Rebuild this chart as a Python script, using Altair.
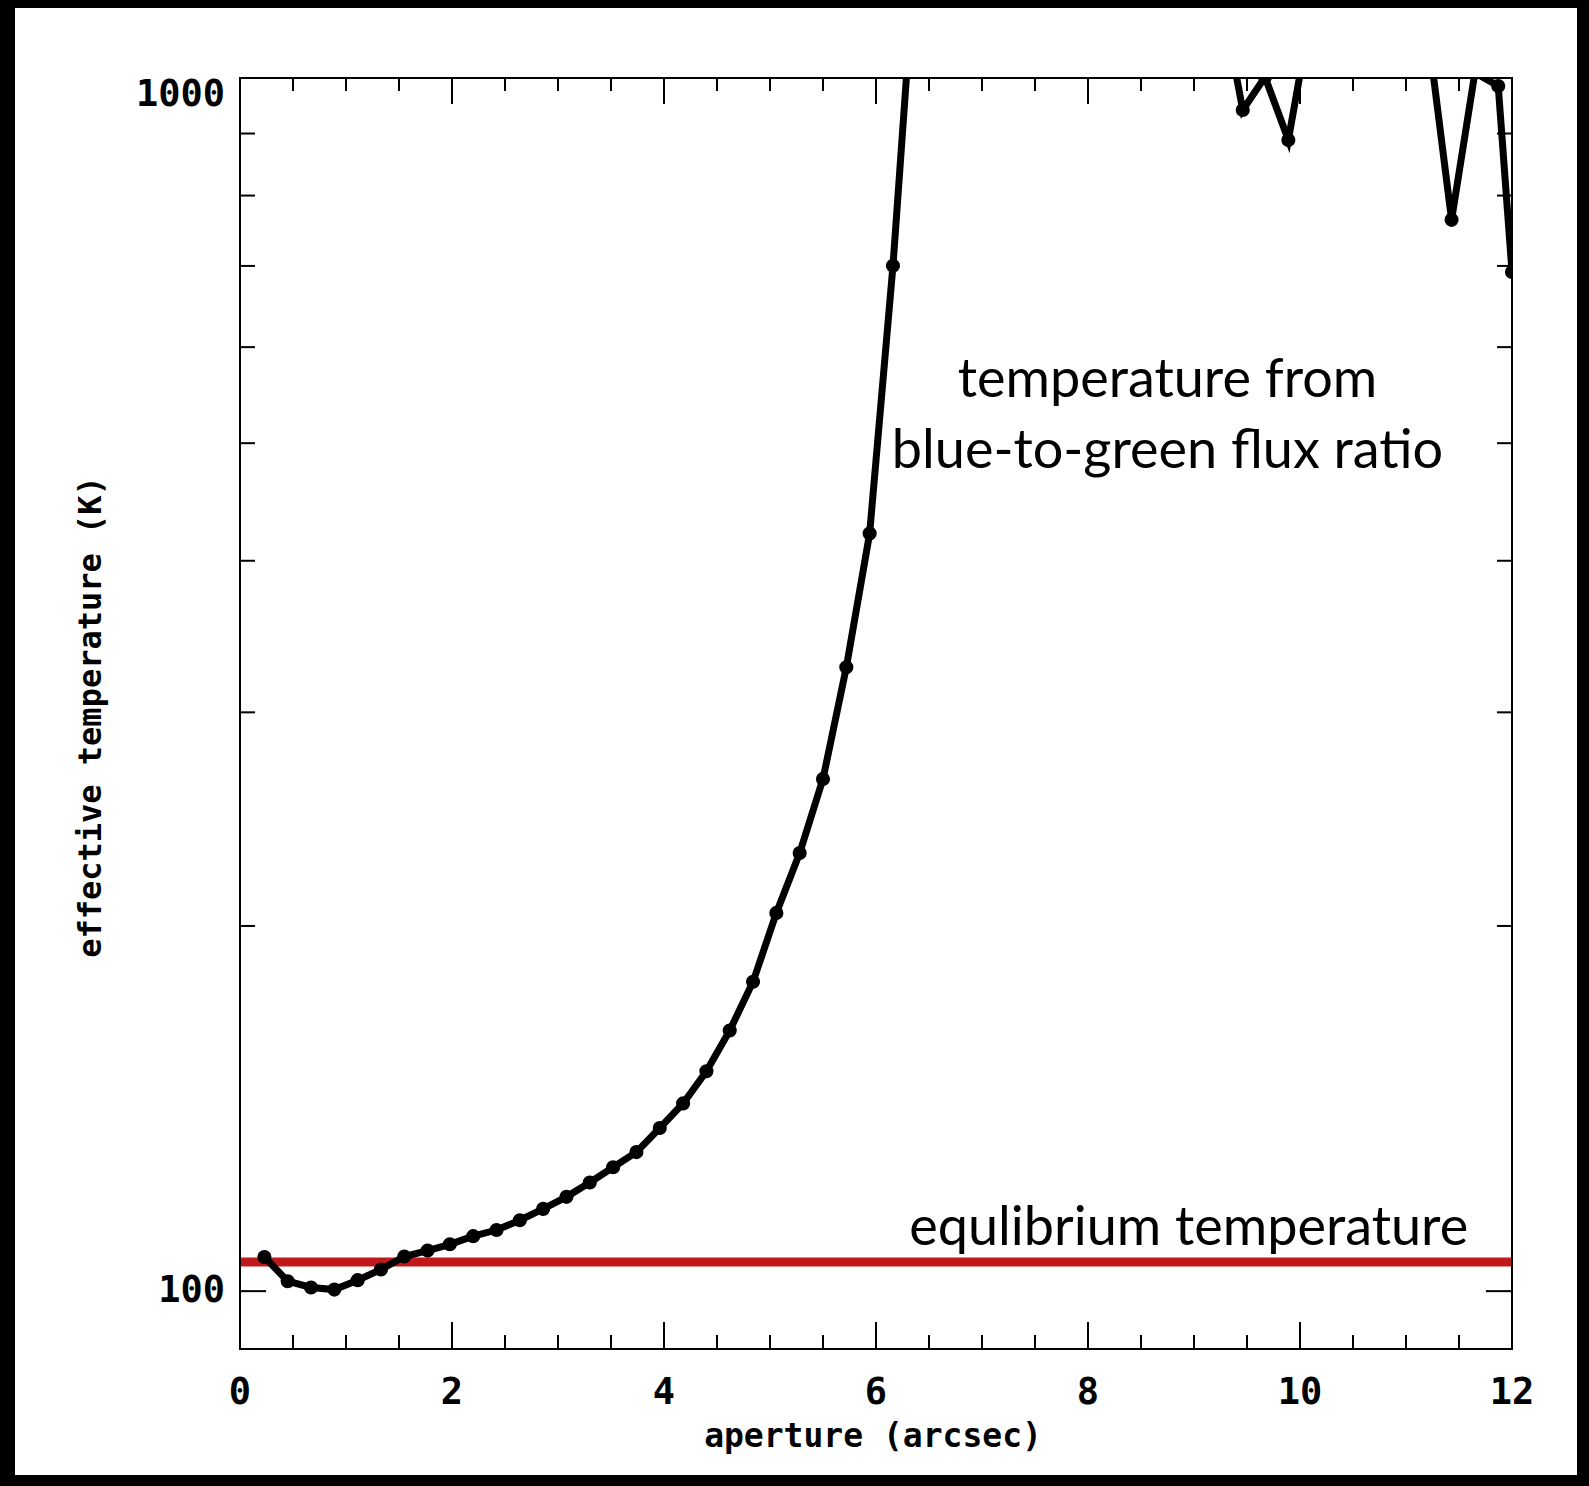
import altair as alt
import pandas as pd

# ---- data ----
aperture = [0.23, 0.45, 0.67, 0.89, 1.11, 1.33, 1.55, 1.77, 1.98,
            2.20, 2.42, 2.64, 2.86, 3.08, 3.30, 3.52, 3.74, 3.96, 4.18,
            4.40, 4.62, 4.84, 5.06, 5.28, 5.50, 5.72, 5.94, 6.16, 6.38,
            9.24, 9.46, 9.67, 9.89, 10.11,
            11.21, 11.43, 11.65, 11.87, 12.0]
temperature = [106.7, 101.9, 100.7, 100.3, 102.1, 104.2, 106.8, 108.0, 109.3,
               111.0, 112.3, 114.4, 116.9, 119.6, 122.9, 126.5, 130.2, 136.3, 142.8,
               151.8, 164.0, 179.9, 205.0, 229.7, 264.4, 326.8, 421.3, 700.2, 1300,
               1190, 941, 1002, 889, 1140,
               1085, 764, 1010, 985, 692]
equilibrium_temp = [105.7]

x_major = [0, 2, 4, 6, 8, 10, 12]
x_labels = ["0", "2", "4", "6", "8", "10", "12"]
x_minor = [0.5, 1, 1.5, 2.5, 3, 3.5, 4.5, 5, 5.5, 6.5, 7, 7.5,
           8.5, 9, 9.5, 10.5, 11, 11.5]
y_major = [100, 1000]
y_labels = ["100", "1000"]
y_minor = [200, 300, 400, 500, 600, 700, 800, 900]

x_title = "aperture (arcsec)"
y_title = "effective temperature (K)"

annot_text = ["temperature from", "blue-to-green flux ratio", "equlibrium temperature"]
annot_x = [8.75, 8.75, 8.95]
annot_y = [546, 477, 109.2]

# ---- layout ----
W, H = 1272, 1271
PAD_L, PAD_T = 240, 78
PAD_R = 1589 - PAD_L - W
PAD_B = 1486 - PAD_T - H

LABEL_FONT = "DejaVu Sans Mono"

xs = alt.Scale(domain=[0, 12], nice=False, zero=False)
ys = alt.Scale(type="log", domain=[89.6, 1000], nice=False)

df = pd.DataFrame({"aperture": aperture, "temperature": temperature})
df_eq = pd.DataFrame({"t": equilibrium_temp})
one = pd.DataFrame({"a": [0]})
df_xmaj = pd.DataFrame({"v": x_major, "lab": x_labels})
df_xmin = pd.DataFrame({"v": x_minor})
df_ymaj = pd.DataFrame({"v": y_major, "lab": y_labels})
df_ymin = pd.DataFrame({"v": y_minor})
df_ann = pd.DataFrame({"text": annot_text, "x": annot_x, "y": annot_y})


def strip(x0, x1, y0, y1):
    return alt.Chart(one).mark_rect(color="black").encode(
        x=alt.value(x0 - PAD_L), x2=alt.value(x1 - PAD_L),
        y=alt.value(y0 - PAD_T), y2=alt.value(y1 - PAD_T))


border = [
    strip(0, 1589, 0, 8),
    strip(0, 1589, 1475, 1486),
    strip(0, 15, 0, 1486),
    strip(1577, 1589, 0, 1486),
]

red = alt.Chart(df_eq).mark_rule(color="#c0191c", strokeWidth=9).encode(
    y=alt.Y("t:Q", scale=ys, axis=None), x=alt.value(0), x2=alt.value(W))

line = alt.Chart(df).mark_line(color="black", strokeWidth=7, clip=True).encode(
    x=alt.X("aperture:Q", scale=xs, axis=None),
    y=alt.Y("temperature:Q", scale=ys, axis=None),
    order="aperture:Q")
pts = alt.Chart(df).mark_circle(color="black", size=200, opacity=1, clip=True).encode(
    x=alt.X("aperture:Q", scale=xs, axis=None),
    y=alt.Y("temperature:Q", scale=ys, axis=None))


def xticks(d, y0, y1):
    return alt.Chart(d).mark_rule(color="black", strokeWidth=2).encode(
        x=alt.X("v:Q", scale=xs, axis=None), y=alt.value(y0), y2=alt.value(y1))


def yticks(d, x0, x1):
    return alt.Chart(d).mark_rule(color="black", strokeWidth=2).encode(
        y=alt.Y("v:Q", scale=ys, axis=None), x=alt.value(x0), x2=alt.value(x1))


ticks = [
    xticks(df_xmaj, H, H - 27), xticks(df_xmin, H, H - 14),
    xticks(df_xmaj, 0, 26), xticks(df_xmin, 0, 13),
    yticks(df_ymaj, 0, 26), yticks(df_ymin, 0, 15),
    yticks(df_ymaj, W, W - 26), yticks(df_ymin, W, W - 15),
]

frame = alt.Chart(one).mark_rect(fillOpacity=0, stroke="black", strokeWidth=2).encode(
    x=alt.value(0), x2=alt.value(W), y=alt.value(0), y2=alt.value(H))

# tick labels
xlab = alt.Chart(df_xmaj).mark_text(
    font=LABEL_FONT, fontSize=37, fontWeight="bold", color="black",
    align="center", baseline="middle").encode(
    x=alt.X("v:Q", scale=xs, axis=None), y=alt.value(H + 44), text="lab:N")

ylab_100 = alt.Chart(df_ymaj).transform_filter(alt.datum.v < 500).mark_text(
    font=LABEL_FONT, fontSize=37, fontWeight="bold", color="black",
    align="right", baseline="middle").encode(
    y=alt.Y("v:Q", scale=ys, axis=None), x=alt.value(-15), text="lab:N")

ylab_1000 = alt.Chart(df_ymaj).transform_filter(alt.datum.v > 500).mark_text(
    font=LABEL_FONT, fontSize=37, fontWeight="bold", color="black",
    align="right", baseline="top", dy=-1).encode(
    y=alt.Y("v:Q", scale=ys, axis=None), x=alt.value(-15), text="lab:N")

xtitle = alt.Chart(one).mark_text(
    font=LABEL_FONT, fontSize=33, fontWeight="bold", color="black",
    align="center", baseline="middle").encode(
    x=alt.value(633), y=alt.value(1437 - PAD_T), text=alt.value(x_title))

ytitle = alt.Chart(one).mark_text(
    font=LABEL_FONT, fontSize=32, fontWeight="bold", color="black",
    align="center", baseline="middle", angle=270).encode(
    x=alt.value(91 - PAD_L), y=alt.value(717 - PAD_T), text=alt.value(y_title))

ann = alt.Chart(df_ann).mark_text(font="Lato", fontSize=54, align="center",
                                   baseline="alphabetic", color="black").encode(
    x=alt.X("x:Q", scale=xs, axis=None),
    y=alt.Y("y:Q", scale=ys, axis=None),
    text="text:N")

chart = alt.layer(red, line, pts, *ticks, frame, ann,
                  xlab, ylab_100, ylab_1000, xtitle, ytitle, *border).properties(
    width=W, height=H,
    autosize=alt.AutoSizeParams(type="none"),
    padding={"left": PAD_L, "top": PAD_T, "right": PAD_R, "bottom": PAD_B},
    background="white",
).configure_view(stroke=None)

chart.save("out.html", embed_options={"renderer": "svg", "actions": False})
